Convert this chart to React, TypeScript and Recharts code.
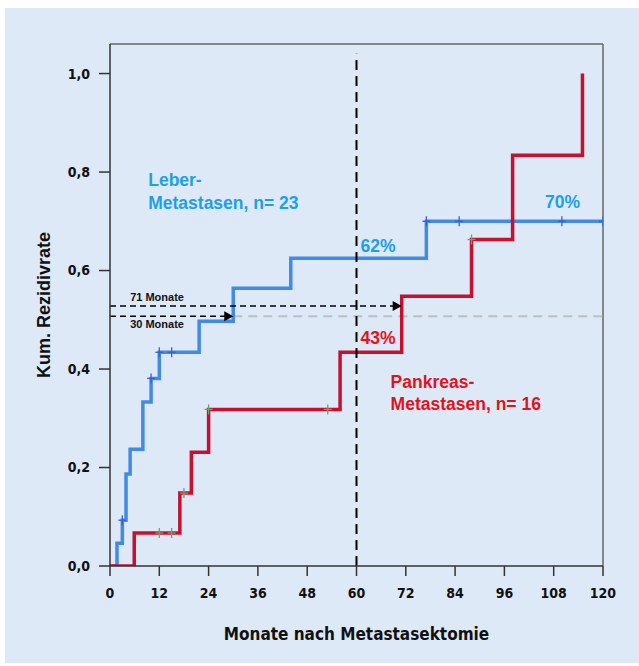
import {
  ComposedChart,
  Line,
  ReferenceDot,
  ReferenceLine,
  Scatter,
  XAxis,
  YAxis,
} from "recharts";

// Kaplan-Meier style cumulative recurrence
const leberTimes = [0, 1.7, 3, 3.9, 4.9, 8, 10, 12, 21.7, 30, 44, 77, 120];
const leberRates = [0, 0.046, 0.093, 0.187, 0.237, 0.333, 0.381, 0.434, 0.497, 0.564, 0.625, 0.7, 0.7];
const leberCensorTimes = [3, 10, 12, 15, 77, 85, 110, 120];
const leberCensorRates = [0.093, 0.381, 0.434, 0.434, 0.7, 0.7, 0.7, 0.7];

const pankreasTimes = [0, 5.9, 17, 19.8, 24, 56, 71, 88, 98, 115];
const pankreasRates = [0, 0.067, 0.148, 0.231, 0.318, 0.434, 0.548, 0.663, 0.834, 1.0];
const pankreasCensorTimes = [12, 15, 18, 24, 53, 88];
const pankreasCensorRates = [0.067, 0.067, 0.148, 0.318, 0.318, 0.663];

const xTicks = [0, 12, 24, 36, 48, 60, 72, 84, 96, 108, 120];
const yTicks = [0, 0.2, 0.4, 0.6, 0.8, 1.0];
const yTop = 1.06;

const medianRate = 0.507;
const leberMedian = 30;
const pankreasArrowRate = 0.528;
const pankreasMedian = 71;
const landmarkMonth = 60;

const BLUE_LINE = "#4389e6";
const BLUE_TEXT = "#1e9fe9";
const RED_LINE = "#c8102e";
const RED_TEXT = "#e3121b";
const BG = "#dde9f7";
const NARROW = "'Liberation Sans Narrow', 'DejaVu Sans Condensed', 'Liberation Sans', Arial, sans-serif";
const SANS = "'Liberation Sans', Arial, sans-serif";

const toPoints = (ts: number[], vs: number[]) => ts.map((t, i) => ({ t, v: vs[i] }));

const leberData = toPoints(leberTimes, leberRates);
const leberCensor = toPoints(leberCensorTimes, leberCensorRates);
const pankreasData = toPoints(pankreasTimes, pankreasRates);
const pankreasCensor = toPoints(pankreasCensorTimes, pankreasCensorRates);

function plusMark(color: string) {
  return (props: any) => {
    const { cx, cy } = props;
    if (cx == null || cy == null) return <g />;
    return (
      <g stroke={color} strokeWidth={1.3}>
        <line x1={cx - 4} x2={cx + 4} y1={cy} y2={cy} />
        <line x1={cx} x2={cx} y1={cy - 5} y2={cy + 5} />
      </g>
    );
  };
}

function textMark(text: string, color: string, size: number) {
  return (props: any) => (
    <text
      x={props.cx}
      y={props.cy}
      fill={color}
      fontSize={size}
      fontWeight={700}
      fontFamily={SANS}
    >
      {text}
    </text>
  );
}

function arrowHead(props: any) {
  const { cx, cy } = props;
  return <path d={`M${cx},${cy} L${cx - 9},${cy - 5} L${cx - 9},${cy + 5} Z`} fill="#000" />;
}

const fmtComma = (v: number) => v.toFixed(1).replace(".", ",");

export default function App() {
  return (
    <div
      style={{
        position: "absolute",
        left: 0,
        top: 0,
        width: 639,
        height: 666,
        background: "#fff",
      }}
    >
      <div
        style={{
          position: "absolute",
          left: 5,
          top: 8,
          width: 634,
          height: 655,
          background: BG,
        }}
      />
      <div style={{ position: "absolute", left: 0, top: 0 }}>
        <ComposedChart
          width={639}
          height={666}
          margin={{ top: 44, right: 36, bottom: 60, left: 60 }}
        >
          <XAxis
            type="number"
            dataKey="t"
            domain={[0, 120]}
            ticks={xTicks}
            allowDataOverflow
            interval={0}
            tickSize={10}
            tickMargin={12}
            height={40}
            axisLine={{ stroke: "#333", strokeWidth: 1.5 }}
            tickLine={{ stroke: "#333", strokeWidth: 1.5 }}
            tick={{ fill: "#111", fontSize: 14, fontWeight: 700, fontFamily: NARROW }}
            label={{
              value: "Monate nach Metastasektomie",
              position: "bottom",
              offset: 22,
              style: { fill: "#111", fontSize: 17, fontWeight: 700, fontFamily: NARROW },
            }}
          />
          <YAxis
            type="number"
            dataKey="v"
            domain={[0, yTop]}
            ticks={yTicks}
            allowDataOverflow
            interval={0}
            width={50}
            tickSize={11}
            tickMargin={9}
            tickFormatter={fmtComma}
            axisLine={{ stroke: "#333", strokeWidth: 1.5 }}
            tickLine={{ stroke: "#333", strokeWidth: 1.5 }}
            tick={{ fill: "#111", fontSize: 14, fontWeight: 700, fontFamily: NARROW }}
            label={{
              value: "Kum. Rezidivrate",
              angle: -90,
              position: "left",
              offset: 16,
              style: { textAnchor: "middle", fill: "#111", fontSize: 18, fontWeight: 700, fontFamily: SANS },
            }}
          />

          {/* frame top + right */}
          <ReferenceLine
            segment={[{ x: 0, y: yTop }, { x: 120, y: yTop }]}
            stroke="#666"
            strokeWidth={1.5}
          />
          <ReferenceLine
            segment={[{ x: 120, y: 0 }, { x: 120, y: yTop }]}
            stroke="#666"
            strokeWidth={1.5}
          />

          {/* median helper line */}
          <ReferenceLine
            segment={[{ x: leberMedian, y: medianRate }, { x: 120, y: medianRate }]}
            stroke="#b9c0c8"
            strokeWidth={2}
            strokeDasharray="9 6"
          />

          <Line
            data={leberData}
            dataKey="v"
            type="stepAfter"
            stroke={BLUE_LINE}
            strokeWidth={3.5}
            dot={false}
            activeDot={false}
            isAnimationActive={false}
          />
          <Line
            data={pankreasData}
            dataKey="v"
            type="stepAfter"
            stroke={RED_LINE}
            strokeWidth={3.5}
            dot={false}
            activeDot={false}
            isAnimationActive={false}
          />
          <Scatter
            data={leberCensor}
            dataKey="v"
            shape={plusMark("#3561d6")}
            isAnimationActive={false}
          />
          <Scatter
            data={pankreasCensor}
            dataKey="v"
            shape={plusMark("#6f9f74")}
            isAnimationActive={false}
          />

          <ReferenceLine
            segment={[{ x: landmarkMonth, y: 0 }, { x: landmarkMonth, y: 1.04 }]}
            stroke="#000"
            strokeWidth={2}
            strokeDasharray="10 6"
          />
          <ReferenceLine
            segment={[{ x: 0, y: pankreasArrowRate }, { x: pankreasMedian - 1.5, y: pankreasArrowRate }]}
            stroke="#000"
            strokeWidth={1.5}
            strokeDasharray="6 4"
          />
          <ReferenceLine
            segment={[{ x: 0, y: medianRate }, { x: leberMedian - 1.5, y: medianRate }]}
            stroke="#000"
            strokeWidth={1.5}
            strokeDasharray="6 4"
          />
          <ReferenceDot x={pankreasMedian} y={pankreasArrowRate} shape={arrowHead} />
          <ReferenceDot x={leberMedian} y={medianRate} shape={arrowHead} />

          <ReferenceDot x={4.9} y={0.538} shape={textMark("71 Monate", "#111", 11)} />
          <ReferenceDot x={4.9} y={0.483} shape={textMark("30 Monate", "#111", 11)} />

          <ReferenceDot x={9.3} y={0.771} shape={textMark("Leber-", BLUE_TEXT, 17.5)} />
          <ReferenceDot x={9.3} y={0.724} shape={textMark("Metastasen, n= 23", BLUE_TEXT, 17.5)} />
          <ReferenceDot x={61} y={0.637} shape={textMark("62%", BLUE_TEXT, 17.5)} />
          <ReferenceDot x={105.9} y={0.726} shape={textMark("70%", BLUE_TEXT, 17.5)} />

          <ReferenceDot x={61} y={0.45} shape={textMark("43%", RED_TEXT, 17.5)} />
          <ReferenceDot x={68.3} y={0.361} shape={textMark("Pankreas-", RED_TEXT, 17.5)} />
          <ReferenceDot x={68.3} y={0.316} shape={textMark("Metastasen, n= 16", RED_TEXT, 17.5)} />
        </ComposedChart>
      </div>
    </div>
  );
}
